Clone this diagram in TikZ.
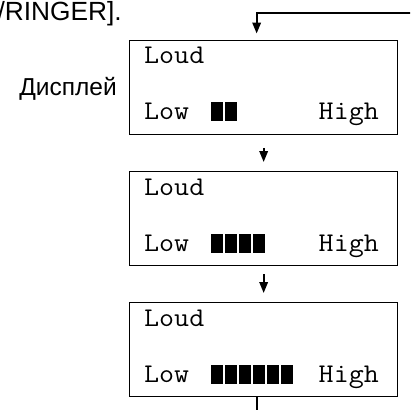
\documentclass[tikz,border=0pt]{standalone}
\usepackage{fontspec}
\setmainfont{Liberation Sans}
\usetikzlibrary{arrows.meta}
\newcommand{\mtext}[1]{\scalebox{1.08}[1]{#1}}
\begin{document}
\begin{tikzpicture}[x=1pt,y=-1pt,
  lcd/.style={draw, line width=1.3pt, minimum width=268pt, minimum height=94pt, inner sep=0pt, anchor=north west},
  mono/.style={font=\fontsize{27}{27}\selectfont\ttfamily, inner sep=0pt},
  sans/.style={inner sep=0pt, anchor=base east},
  bar/.style={fill=black, draw=none},
  conn/.style={line width=1.8pt, -{Triangle[length=11pt,width=8.5pt]}},
]
\useasboundingbox (0,0) rectangle (410,410);
\clip (0,0) rectangle (410,410);

\node[sans, font=\fontsize{26.3}{26.3}\selectfont] (ringer) at (122,20) {/RINGER].};
\node[sans, font=\fontsize{24.5}{24.5}\selectfont] (disp) at (117,95) {Дисплей};

\foreach \i/\t/\n in {1/39.5/2, 2/171/4, 3/302/6}{
  \node[lcd] (b\i) at (129,\t) {};
  \node[mono, anchor=base west] (loud\i) at (144,\t+24) {\mtext{Loud}};
  \node[mono, anchor=base west] (low\i) at (144,\t+80) {\mtext{Low}};
  \node[mono, anchor=base east] (high\i) at (379,\t+80) {\mtext{High}};
  \foreach \k in {1,...,\n}{
    \fill[bar] (210.5+14*\k-14,\t+62.5) rectangle ++(12,19);
  }
}

\coordinate (in) at (412,12.5);
\coordinate (out) at (257,412);
\draw[conn, line width=2pt, shorten >=6pt] (in) -| ([xshift=-7pt]b1.north);
\draw[conn, shorten <=13pt, shorten >=9pt] (b1) -- (b2);
\draw[conn, shorten <=8pt, shorten >=9pt] (b2) -- (b3);
\draw[line width=1.8pt] (b3.south -| out) -- (out);
\end{tikzpicture}
\end{document}
